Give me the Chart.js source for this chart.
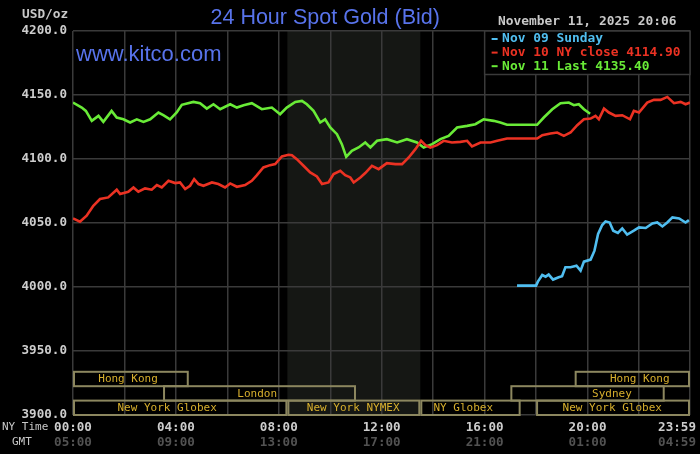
<!DOCTYPE html>
<html><head><meta charset="utf-8">
<script src="https://cdn.jsdelivr.net/npm/chart.js@4.4.0/dist/chart.umd.min.js"></script>
<style>html,body{margin:0;padding:0;background:#000;overflow:hidden}#wrap{width:700px;height:454px;position:relative}</style>
</head><body><div id="wrap"><canvas id="c" width="700" height="454"></canvas></div>
<script>
// ---- data ----
const seriesNames = ['Nov 09 Sunday', 'Nov 10 NY close 4114.90', 'Nov 11 Last 4135.40'];
const seriesColors = ['rgb(80,190,240)', 'rgb(235,50,35)', 'rgb(105,235,55)'];

const sunT = [17.26, 18.0, 18.07, 18.24, 18.37, 18.49, 18.66, 18.88, 19.01, 19.14, 19.34, 19.57, 19.73, 19.86, 20.12, 20.27, 20.41, 20.57, 20.7, 20.86, 21.0, 21.18, 21.35, 21.54, 21.8, 22.0, 22.26, 22.52, 22.71, 22.91, 23.1, 23.3, 23.56, 23.81, 23.94];
const sunV = [4001.1, 4001.1, 4004.2, 4009.4, 4008.1, 4009.7, 4005.8, 4007.6, 4008.5, 4015.4, 4015.4, 4016.7, 4012.8, 4019.8, 4021.4, 4028.4, 4041.4, 4048.4, 4051.2, 4050.4, 4044.0, 4042.2, 4045.8, 4040.9, 4044.0, 4046.6, 4046.1, 4049.7, 4050.4, 4047.3, 4050.4, 4054.4, 4053.6, 4050.4, 4052.2];

const closeT = [0, 0.27, 0.53, 0.79, 1.05, 1.37, 1.7, 1.83, 2.15, 2.35, 2.54, 2.8, 3.06, 3.26, 3.45, 3.71, 3.97, 4.16, 4.36, 4.55, 4.71, 4.88, 5.07, 5.4, 5.65, 5.91, 6.11, 6.37, 6.69, 6.95, 7.15, 7.4, 7.66, 7.86, 8.12, 8.38, 8.51, 8.7, 8.96, 9.22, 9.48, 9.68, 9.93, 10.13, 10.39, 10.58, 10.78, 10.91, 11.17, 11.36, 11.62, 11.88, 12.2, 12.53, 12.79, 13.05, 13.31, 13.53, 13.7, 13.89, 14.15, 14.41, 14.73, 15.06, 15.32, 15.51, 15.84, 16.23, 16.49, 16.87, 18.04, 18.24, 18.56, 18.82, 19.08, 19.34, 19.6, 19.86, 20.12, 20.31, 20.44, 20.64, 20.83, 21.09, 21.35, 21.65, 21.8, 22.0, 22.32, 22.58, 22.84, 23.1, 23.36, 23.62, 23.81, 23.98];
const closeV = [4053.6, 4051.0, 4055.7, 4063.5, 4068.7, 4070.0, 4076.0, 4072.6, 4074.4, 4077.8, 4074.4, 4077.0, 4076.0, 4079.6, 4077.8, 4083.0, 4081.2, 4081.7, 4076.5, 4079.1, 4084.3, 4080.4, 4079.1, 4081.7, 4080.4, 4077.8, 4080.9, 4078.3, 4079.6, 4083.0, 4087.4, 4093.4, 4095.2, 4096.0, 4102.0, 4103.3, 4103.0, 4099.9, 4094.7, 4089.5, 4086.4, 4080.4, 4081.7, 4088.2, 4090.8, 4087.4, 4085.6, 4081.7, 4085.6, 4089.0, 4094.7, 4092.1, 4096.8, 4096.0, 4096.0, 4101.2, 4107.7, 4114.2, 4110.8, 4109.0, 4110.8, 4114.2, 4112.9, 4113.4, 4114.2, 4109.8, 4112.9, 4112.9, 4114.2, 4116.0, 4116.0, 4118.6, 4119.9, 4120.7, 4118.1, 4120.7, 4126.4, 4131.0, 4131.6, 4133.7, 4131.0, 4139.4, 4136.3, 4133.7, 4134.2, 4131.0, 4137.6, 4136.3, 4144.1, 4146.2, 4146.2, 4148.5, 4143.6, 4144.6, 4142.8, 4144.1];

const lastT = [0, 0.34, 0.5, 0.73, 0.99, 1.18, 1.5, 1.7, 1.96, 2.22, 2.48, 2.74, 3.0, 3.32, 3.51, 3.77, 4.03, 4.23, 4.68, 4.94, 5.2, 5.46, 5.72, 6.11, 6.37, 6.63, 6.95, 7.34, 7.73, 8.05, 8.31, 8.64, 8.9, 9.09, 9.35, 9.61, 9.8, 10.0, 10.26, 10.45, 10.62, 10.84, 11.1, 11.36, 11.56, 11.82, 12.2, 12.6, 12.98, 13.37, 13.63, 13.96, 14.28, 14.6, 14.93, 15.32, 15.64, 15.96, 16.35, 16.61, 16.87, 18.04, 18.3, 18.63, 18.95, 19.27, 19.47, 19.66, 19.86, 20.1];
const lastV = [4144.1, 4140.2, 4137.6, 4129.8, 4133.7, 4129.0, 4137.6, 4132.4, 4131.0, 4128.5, 4131.0, 4129.0, 4131.0, 4136.3, 4134.2, 4131.0, 4136.3, 4142.3, 4144.6, 4143.6, 4139.4, 4142.8, 4138.9, 4142.8, 4140.2, 4142.0, 4143.6, 4138.9, 4140.2, 4135.0, 4140.2, 4144.6, 4145.4, 4142.8, 4137.6, 4128.5, 4131.0, 4124.6, 4119.4, 4111.6, 4101.7, 4106.4, 4109.0, 4112.9, 4109.0, 4114.2, 4115.5, 4112.9, 4115.5, 4112.9, 4109.0, 4111.6, 4115.5, 4118.1, 4124.6, 4125.9, 4127.2, 4131.0, 4129.8, 4128.5, 4126.7, 4126.7, 4132.4, 4138.9, 4143.6, 4144.1, 4142.0, 4142.8, 4138.9, 4135.4];

const yTickStep = 50;
const tickHours = [0, 2, 4, 6, 8, 10, 12, 14, 16, 18, 20, 22, 23.48, 23.983];
const nyTimeLabels = {'0': '00:00', '4': '04:00', '8': '08:00', '12': '12:00', '16': '16:00', '20': '20:00', '23.48': '23:59'};
const gmtLabels = {'0': '05:00', '4': '09:00', '8': '13:00', '12': '17:00', '16': '21:00', '20': '01:00', '23.48': '04:59'};

const nymexStart = 8.333, nymexEnd = 13.5;
const sessionNames = ['Hong Kong', 'London', 'New York Globex', 'New York NYMEX', 'NY Globex', 'Sydney', 'Hong Kong', 'New York Globex'];
const sessionStart = [0, 3.5, 0, 8.333, 13.5, 17.0, 19.5, 18.0];
const sessionEnd = [4.5, 11.0, 8.333, 13.5, 17.4, 23.0, 23.983, 23.983];
const sessionRow = [0, 1, 2, 2, 2, 1, 0, 2];
const sessionLabelAt = [2.14, 7.16, 3.66, 10.89, 15.17, 20.95, 22.03, 20.96];

const titleText = '24 Hour Spot Gold (Bid)';
const siteText = 'www.kitco.com';
const unitText = 'USD/oz';
const stampText = 'November 11, 2025 20:06';

// ---- chart ----
const pts = (t, v) => t.map((x, i) => ({x: x, y: v[i]}));
const MONO = 'DejaVu Sans Mono';
const GRID = 'rgb(58,58,58)';

const decor = {
  id: 'decor',
  beforeDraw(chart) {
    const c = chart.ctx, a = chart.chartArea, xs = chart.scales.x;
    c.save();
    c.fillStyle = '#000';
    c.fillRect(0, 0, chart.width, chart.height);
    const x0 = xs.getPixelForValue(nymexStart), x1 = xs.getPixelForValue(nymexEnd);
    c.fillStyle = 'rgb(21,23,20)';
    c.fillRect(x0, a.top, x1 - x0, a.bottom - a.top);
    c.restore();
  },
  afterDraw(chart) {
    const c = chart.ctx, a = chart.chartArea, xs = chart.scales.x;
    c.save();
    // session boxes
    const rowH = (a.bottom - a.top) * 0.0375;
    c.lineWidth = 2;
    c.strokeStyle = 'rgb(140,135,95)';
    c.font = '11px "' + MONO + '"';
    c.textAlign = 'center';
    c.textBaseline = 'middle';
    sessionNames.forEach((n, i) => {
      const xa = xs.getPixelForValue(sessionStart[i]), xb = xs.getPixelForValue(sessionEnd[i]);
      const yb = a.bottom - (2 - sessionRow[i]) * rowH, ya = yb - rowH;
      c.strokeRect(xa + 1, ya, xb - xa - 2, rowH);
      c.fillStyle = 'rgb(215,175,45)';
      c.fillText(n, xs.getPixelForValue(sessionLabelAt[i]), (ya + yb) / 2 + 0.5);
    });
    // legend box
    const lx = xs.getPixelForValue(16), ly = a.top, lw = a.right - lx, lh = 43.5;
    c.fillStyle = '#000';
    c.fillRect(lx, ly, lw, lh);
    c.strokeStyle = GRID;
    c.lineWidth = 1.5;
    c.strokeRect(lx, ly, lw, lh);
    c.font = 'bold 12.9px "' + MONO + '"';
    c.textAlign = 'left';
    seriesNames.forEach((n, i) => {
      const yy = ly + 8 + i * 13.6;
      c.fillStyle = seriesColors[i];
      c.fillRect(lx + 7, yy - 1, 6, 2);
      c.fillText(n, lx + 17.5, yy);
    });
    // texts
    c.fillStyle = 'rgb(200,200,200)';
    c.font = 'bold 12.8px "' + MONO + '"';
    c.textAlign = 'left';
    c.fillText(unitText, 22, 14.5);
    c.font = 'bold 12.9px "' + MONO + '"';
    c.fillText(stampText, 498, 22);
    c.font = '11px "' + MONO + '"';
    c.fillText('NY Time', 2, 427);
    c.fillText('GMT', 12, 442);
    c.fillStyle = 'rgb(88,115,235)';
    c.textBaseline = 'alphabetic';
    c.font = '21.5px "Liberation Sans", Arial, sans-serif';
    c.fillText(titleText, 210.5, 23.5);
    c.font = '22px "Liberation Sans", Arial, sans-serif';
    c.fillText(siteText, 76, 61);
    c.restore();
  }
};

const lineDs = (label, data, color) => ({
  label, data, borderColor: color, backgroundColor: color,
  borderWidth: 2.6, pointRadius: 0, tension: 0, fill: false
});

new Chart(document.getElementById('c'), {
  type: 'line',
  data: {
    datasets: [
      lineDs(seriesNames[0], pts(sunT, sunV), seriesColors[0]),
      lineDs(seriesNames[1], pts(closeT, closeV), seriesColors[1]),
      lineDs(seriesNames[2], pts(lastT, lastV), seriesColors[2])
    ]
  },
  options: {
    responsive: false,
    animation: false,
    devicePixelRatio: 1,
    layout: {autoPadding: false, padding: {top: 31, right: 10, left: 0, bottom: 0}},
    plugins: {legend: {display: false}, tooltip: {enabled: false}, title: {display: false}},
    scales: {
      x: {
        type: 'linear', min: 0, max: 23.983, position: 'bottom', weight: 0,
        afterBuildTicks: s => { s.ticks = tickHours.map(v => ({value: v})); },
        afterFit: s => { s.height = 20; },
        border: {display: false},
        grid: {color: ctx => (ctx.tick && ctx.tick.value === 23.48) ? 'rgba(0,0,0,0)' : GRID, lineWidth: 1.5, drawTicks: false},
        ticks: {
          autoSkip: false, maxRotation: 0, padding: 5, color: 'rgb(205,205,205)',
          font: {family: MONO, size: 12.6, weight: 'bold'},
          callback: v => nyTimeLabels[String(v)] || ''
        }
      },
      x2: {
        type: 'linear', min: 0, max: 23.983, position: 'bottom', weight: 1,
        afterBuildTicks: s => { s.ticks = tickHours.map(v => ({value: v})); },
        afterFit: s => { s.height = 19; },
        border: {display: false},
        grid: {display: false, drawTicks: false},
        ticks: {
          autoSkip: false, maxRotation: 0, padding: 0, color: 'rgb(82,82,82)',
          font: {family: MONO, size: 12.6, weight: 'bold'},
          callback: v => gmtLabels[String(v)] || ''
        }
      },
      y: {
        min: 3900, max: 4200,
        afterFit: s => { s.width = 73; },
        border: {display: false},
        grid: {color: GRID, lineWidth: 1.5, drawTicks: false},
        ticks: {
          stepSize: yTickStep, padding: 6, color: 'rgb(205,205,205)',
          font: {family: MONO, size: 12.6, weight: 'bold'},
          callback: v => Number(v).toFixed(1)
        }
      }
    }
  },
  plugins: [decor]
});
</script>
</body></html>
